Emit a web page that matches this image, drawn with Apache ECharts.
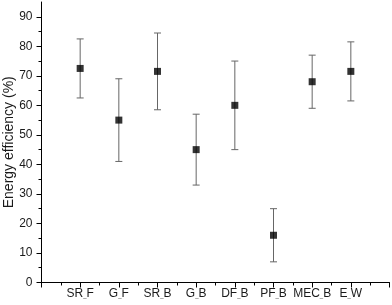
<!DOCTYPE html>
<html><head><meta charset="utf-8">
<script src="https://cdn.jsdelivr.net/npm/echarts@6/dist/echarts.min.js"></script>
<style>html,body{margin:0;padding:0;background:#fff}#c{width:392px;height:305px}</style>
</head><body><div id="c"></div>
<script>
var categories = ["SR_F","G_F","SR_B","G_B","DF_B","PF_B","MEC_B","E_W"];
var values = [72.5, 55, 71.5, 45, 60, 16, 68, 71.5];
var upper = [82.5, 69, 84.5, 57, 75, 25, 77, 81.5];
var lower = [62.5, 41, 58.5, 33, 45, 7, 59, 61.5];
var yTicks = [0,10,20,30,40,50,60,70,80,90];
var yMinor = [5,15,25,35,45,55,65,75,85];
var xTicks = [0,1,2,3,4,5,6,7,8,9];
var xMinor = [0.5,1.5,2.5,3.5,4.5,5.5,6.5,7.5,8.5];

var pts = values.map(function(v,i){return [i+1, v];});
var errs = values.map(function(v,i){return [i+1, lower[i], upper[i]];});
var FF = 'Liberation Sans, Arial, sans-serif';
var font = {fontFamily:FF, color:'#1a1a1a'};
var chart = echarts.init(document.getElementById('c'));
chart.setOption({
  animation:false,
  grid:{left:41.5, right:2.5, top:2, bottom:22.5, containLabel:false, outerBoundsMode:'none'},
  xAxis:[{type:'value', min:0, max:9, interval:1,
    axisLine:{lineStyle:{color:'#000',width:1}}, splitLine:{show:false},
    axisTick:{inside:false, length:5, lineStyle:{color:'#000'}, customValues:xTicks},
    axisLabel:Object.assign({fontSize:12, margin:5, customValues:[1,2,3,4,5,6,7,8],
      formatter:function(v){
        var s = categories[Math.round(v)-1]; if(!s) return '';
        var p = s.split('_');
        return '{n|' + p[0] + '}{u|_}{n|' + p[1] + '}';
      },
      rich:{n:{fontSize:12, fontFamily:FF, color:'#1a1a1a'},
            u:{fontSize:6, fontFamily:FF, color:'#1a1a1a', verticalAlign:'bottom', padding:[5,0,0,0]}}}, font)},
    {type:'value', min:0, max:9, position:'bottom',
    axisLine:{show:false}, splitLine:{show:false},
    axisTick:{inside:false, length:3, lineStyle:{color:'#000'}, customValues:xMinor},
    axisLabel:{show:false}}],
  yAxis:[{type:'value', min:0, max:95, interval:10,
    name:'Energy efficiency (%)', nameLocation:'middle', nameGap:25, nameMoveOverlap:false,
    nameTextStyle:Object.assign({fontSize:14}, font),
    axisLine:{show:true, lineStyle:{color:'#000',width:1}}, splitLine:{show:false},
    axisTick:{show:true, inside:false, length:5, lineStyle:{color:'#000'}, customValues:yTicks},
    axisLabel:Object.assign({fontSize:12, margin:9, customValues:yTicks}, font)},
    {type:'value', min:0, max:95, position:'left',
    axisLine:{show:false}, splitLine:{show:false},
    axisTick:{show:true, inside:false, length:3, lineStyle:{color:'#000'}, customValues:yMinor},
    axisLabel:{show:false}}],
  series:[
    {type:'custom', data:errs, encode:{x:0,y:[1,2]}, z:1,
     renderItem:function(params, api){
       var x = api.value(0);
       var lo = api.coord([x, api.value(1)]);
       var hi = api.coord([x, api.value(2)]);
       var w = 3.5;
       var st = {stroke:'#666', lineWidth:1};
       return {type:'group', children:[
         {type:'line', shape:{x1:lo[0],y1:lo[1],x2:hi[0],y2:hi[1]}, style:st},
         {type:'line', shape:{x1:lo[0]-w,y1:lo[1],x2:lo[0]+w,y2:lo[1]}, style:st},
         {type:'line', shape:{x1:hi[0]-w,y1:hi[1],x2:hi[0]+w,y2:hi[1]}, style:st}
       ]};
     }},
    {type:'scatter', data:pts, symbol:'rect', symbolSize:7, z:3,
     itemStyle:{color:'#000'}}
  ]
});
</script></body></html>
